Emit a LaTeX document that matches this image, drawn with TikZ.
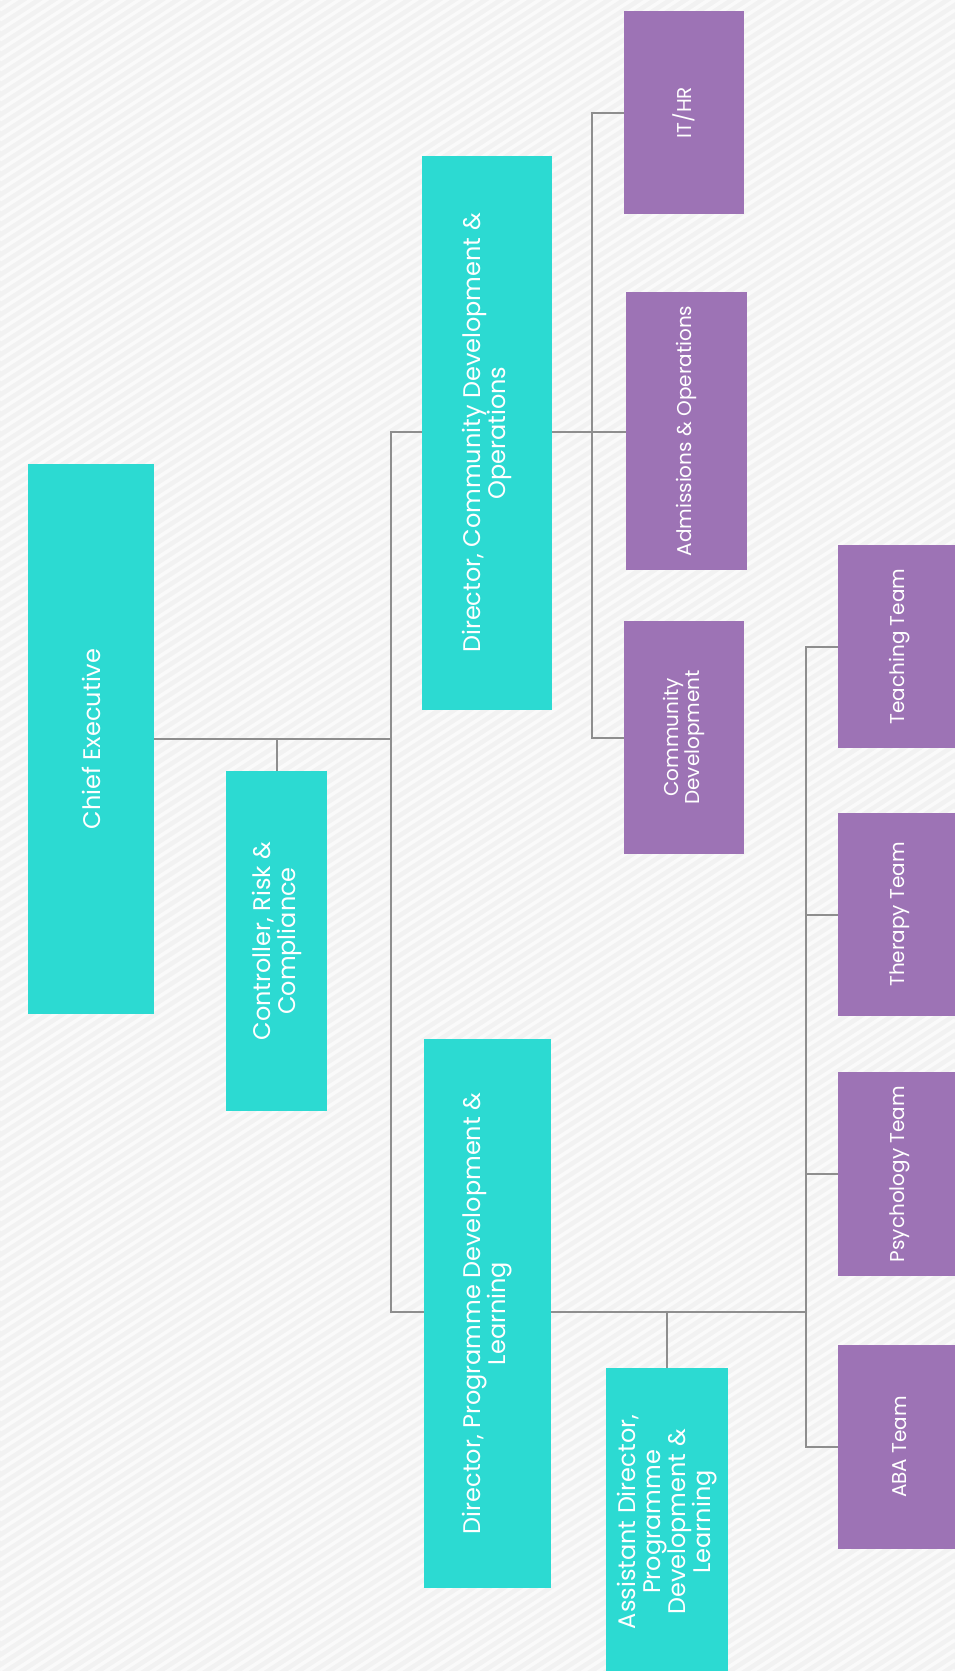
\documentclass[tikz,border=0pt]{standalone}
\usepackage{fontspec}
\setmainfont{Poppins}
\definecolor{bgbase}{HTML}{F2F2F2}
\definecolor{bgstripe}{HTML}{FAFAFA}
\definecolor{tealbox}{HTML}{2CDAD2}
\definecolor{purplebox}{HTML}{9D73B5}
\definecolor{connline}{HTML}{8E8E8E}
\tikzset{
  tealnode/.style={rectangle, fill=tealbox, inner sep=0pt, draw=none},
  purplenode/.style={rectangle, fill=purplebox, inner sep=0pt, draw=none},
  tealtext/.style={rotate=90, text=white, align=center, inner sep=0pt, font=\fontsize{24}{25}\selectfont},
  purpletext/.style={rotate=90, text=white, align=center, inner sep=0pt, font=\fontsize{20}{21}\selectfont},
  conn/.style={draw=connline, line width=2pt},
}
\newcommand{\boxat}[6]{% name, style, x1, y1, x2, y2
  \node[#2, minimum width={(#5-#3)*1pt}, minimum height={(#6-#4)*1pt}] (#1) at ({(#3+#5)/2},{(#4+#6)/2}) {};}
\begin{document}
\begin{tikzpicture}[x=1pt,y=-1pt]
\useasboundingbox (0,0) rectangle (955,1671);
\clip (0,0) rectangle (955,1671);
\fill[bgbase] (0,0) rectangle (955,1671);
\foreach \c in {0,10,...,2300} {
  \draw[bgstripe, line width=3.5pt] (0,\c) -- (955,{\c-620});
}
% boxes
\boxat{ce}{tealnode}{28}{464}{154}{1014}
\boxat{crc}{tealnode}{226}{771}{327}{1111}
\boxat{dcdo}{tealnode}{422}{156}{552}{710}
\boxat{dpdl}{tealnode}{424}{1039}{551}{1588}
\boxat{asst}{tealnode}{606}{1368}{728}{1674}
\boxat{ithr}{purplenode}{624}{11}{744}{214}
\boxat{adm}{purplenode}{626}{292}{747}{570}
\boxat{cd}{purplenode}{624}{621}{744}{854}
\boxat{teach}{purplenode}{838}{545}{962}{748}
\boxat{therapy}{purplenode}{838}{813}{962}{1016}
\boxat{psych}{purplenode}{838}{1072}{962}{1276}
\boxat{aba}{purplenode}{838}{1345}{962}{1549}
% texts
\node[tealtext] (ceT) at (ce) {Chief Executive};
\node[tealtext] (crcT) at (crc) {Controller, Risk \&\\Compliance};
\node[tealtext] (dcdoT) at (dcdo) {Director, Community Development \&\\Operations};
\node[tealtext] (dpdlT) at (dpdl) {Director, Programme Development \&\\Learning};
\node[tealtext] (asstT) at ([yshift=-1pt]asst) {Assistant Director,\\Programme\\Development \&\\Learning};
\node[purpletext] (ithrT) at (ithr) {IT/HR};
\node[purpletext] (admT) at (adm) {Admissions \& Operations};
\node[purpletext] (cdT) at (cd) {Community\\Development};
\node[purpletext] (teachT) at (teach) {Teaching Team};
\node[purpletext] (therapyT) at (therapy) {Therapy Team};
\node[purpletext] (psychT) at (psych) {Psychology Team};
\node[purpletext] (abaT) at (aba) {ABA Team};
% junctions
\coordinate (j1) at (391,739);
\coordinate (j2) at (592,432);
\coordinate (j3) at (806,1312);
% connectors
\draw[conn] (ce.east) -- (j1);
\draw[conn] (crc.north) -- (crc.north |- j1);
\draw[conn] (dcdo.west |- j2) -| (j1) |- (dpdl.west |- j3);
\draw[conn] (dcdo.east |- j2) -- (adm.west |- j2);
\draw[conn] (ithr.west) -| (j2) |- (cd.west);
\draw[conn] (dpdl.east |- j3) -- (j3);
\draw[conn] (asst.north) -- (asst.north |- j3);
\draw[conn] (teach.west) -| (j3) |- (aba.west);
\draw[conn] (therapy.west) -- (therapy.west -| j3);
\draw[conn] (psych.west) -- (psych.west -| j3);
\end{tikzpicture}
\end{document}
